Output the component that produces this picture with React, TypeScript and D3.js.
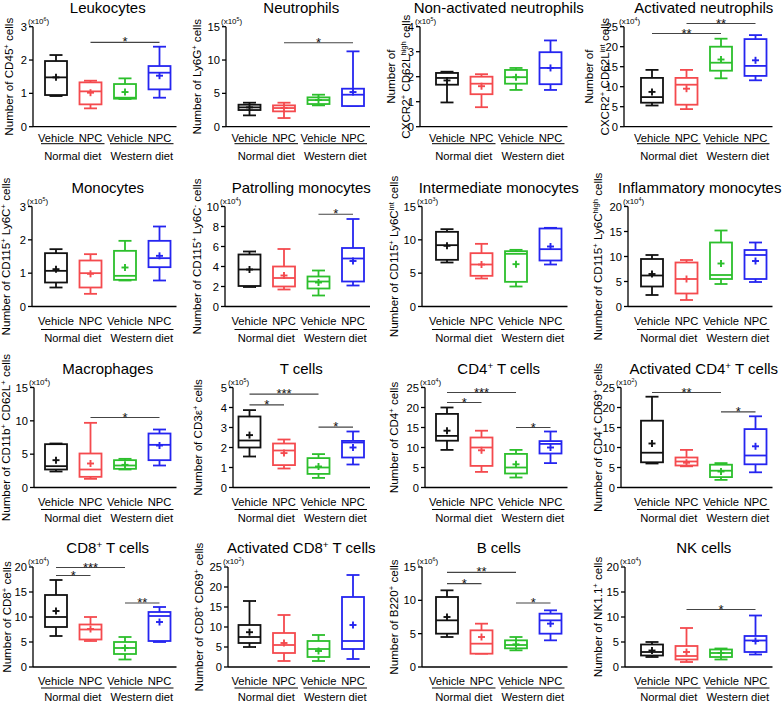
import React from 'react';
import * as d3 from 'd3';

const FONT = '"Liberation Sans", Arial, Helvetica, sans-serif';

const categories = ['Vehicle', 'NPC', 'Vehicle', 'NPC'];
const diets = ['Normal diet', 'Western diet'];
const groupColors = ['#111111', '#f44a4e', '#2cbf2c', '#2525f0'];

const titles = [
  'Leukocytes', 'Neutrophils', 'Non-activated neutrophils', 'Activated neutrophils',
  'Monocytes', 'Patrolling monocytes', 'Intermediate monocytes', 'Inflammatory monocytes',
  'Macrophages', 'T cells', 'CD4^+ T cells', 'Activated CD4^+ T cells',
  'CD8^+ T cells', 'Activated CD8^+ T cells', 'B cells', 'NK cells',
];

const yLabels: string[][] = [
  ['Number of CD45^+ cells'],
  ['Number of Ly6G^+ cells'],
  ['Number of', 'CXCR2^+ CD62L^{high} cells'],
  ['Number of', 'CXCR2^+ CD62L^{int} cells'],
  ['Number of CD115^+ Ly6C^+ cells'],
  ['Number of CD115^+ Ly6C^- cells'],
  ['Number of CD115^+ Ly6C^{int} cells'],
  ['Number of CD115^+ Ly6C^{high} cells'],
  ['Number of CD11b^+ CD62L^+ cells'],
  ['Number of CD3ε^+ cells'],
  ['Number of CD4^+ cells'],
  ['Number of CD4^+ CD69^+ cells'],
  ['Number of CD8^+ cells'],
  ['Number of CD8^+ CD69^+ cells'],
  ['Number of B220^+ cells'],
  ['Number of NK1.1^+ cells'],
];

const exponents = ['6', '5', '5', '4', '5', '4', '3', '4', '4', '5', '4', '2', '4', '2', '6', '4'];
const yMaxes = [3, 15, 4, 25, 3, 10, 15, 20, 15, 5, 25, 25, 20, 25, 15, 20];
const ySteps = [1, 5, 1, 5, 1, 2, 5, 5, 5, 1, 5, 5, 5, 5, 5, 5];

// each group: [min, q1, median, q3, max, mean]
const leukocytes = [[0.92, 0.95, 1.48, 1.97, 2.15, 1.48], [0.55, 0.67, 1.06, 1.33, 1.38, 1.02], [0.83, 0.84, 0.87, 1.28, 1.45, 1.04], [0.87, 1.12, 1.62, 1.82, 2.4, 1.53]];
const neutrophils = [[1.7, 2.5, 2.9, 3.3, 3.6, 2.9], [1.3, 2.3, 2.8, 3.2, 3.6, 2.8], [3.2, 3.4, 4.0, 4.4, 4.8, 4.0], [3.1, 3.1, 4.8, 5.7, 11.3, 5.2]];
const nonActNeut = [[0.97, 1.68, 1.95, 2.15, 2.2, 1.85], [0.78, 1.3, 1.72, 2.0, 2.1, 1.62], [1.47, 1.72, 1.98, 2.27, 2.35, 1.98], [1.47, 1.7, 2.35, 2.98, 3.45, 2.35]];
const actNeut = [[5.3, 6.0, 7.4, 12.2, 14.2, 8.7], [4.4, 5.5, 10.5, 12.2, 14.2, 9.5], [12.1, 14, 16, 20, 22, 16.8], [11.6, 12.7, 15.2, 21.9, 22.9, 16.6]];
const monocytes = [[0.57, 0.72, 1.07, 1.6, 1.72, 1.12], [0.38, 0.57, 1.0, 1.38, 1.57, 0.98], [0.78, 0.8, 0.92, 1.67, 1.97, 1.17], [0.78, 1.18, 1.45, 1.97, 2.4, 1.52]];
const patrolMono = [[1.95, 2.05, 3.7, 5.2, 5.5, 3.7], [1.7, 2.0, 2.85, 4.0, 5.75, 3.1], [1.1, 1.8, 2.5, 3.0, 3.6, 2.4], [2.1, 2.5, 4.8, 5.85, 8.75, 4.55]];
const interMono = [[6.6, 7.0, 9.2, 11.2, 11.6, 9.1], [4.2, 4.6, 6.3, 8.0, 9.4, 6.3], [3.0, 3.7, 7.9, 8.3, 8.5, 6.35], [6.3, 6.9, 8.6, 11.7, 11.8, 9.0]];
const inflamMono = [[2.3, 4.0, 6.2, 9.5, 10.3, 6.5], [1.3, 2.6, 5.5, 8.8, 9.3, 5.5], [4.5, 5.5, 6.3, 12.8, 15.2, 8.6], [4.9, 5.5, 10.3, 11.3, 12.8, 9.1]];
const macrophages = [[2.4, 2.7, 3.2, 6.5, 6.6, 4.1], [1.3, 1.6, 2.7, 5.1, 9.7, 3.6], [2.7, 2.8, 3.3, 4.1, 4.3, 3.4], [3.3, 4.1, 6.4, 8.1, 8.7, 6.3]];
const tCells = [[1.55, 2.0, 2.35, 3.55, 3.87, 2.62], [0.95, 1.12, 1.85, 2.2, 2.4, 1.72], [0.48, 0.68, 1.0, 1.47, 1.67, 1.05], [1.15, 1.5, 2.25, 2.33, 2.8, 2.0]];
const cd4Cells = [[9.4, 11.7, 12.9, 18.4, 20, 14.2], [3.9, 5.4, 10.0, 12.5, 14.2, 9.3], [2.5, 3.5, 5.0, 8.4, 9.4, 5.8], [6.1, 8.5, 10.9, 11.6, 14.0, 10.0]];
const actCd4 = [[6.0, 6.3, 8.7, 16.7, 22.7, 11.0], [5.3, 5.5, 6.5, 7.5, 9.4, 6.2], [1.9, 2.6, 4.2, 5.7, 6.1, 4.0], [3.8, 5.8, 8.0, 14.6, 17.8, 10.3]];
const cd8Cells = [[6.2, 8.0, 10.0, 14.4, 17.4, 11.2], [5.2, 5.5, 7.5, 8.5, 10, 7.6], [1.5, 2.6, 3.8, 5.0, 6.0, 3.8], [5.0, 5.2, 10.2, 11.0, 12.0, 9.0]];
const actCd8 = [[5, 6, 7.5, 10.5, 16.5, 8.7], [1.5, 3.5, 5.5, 8.5, 13, 6], [1.5, 2.5, 4.5, 6.5, 8, 4], [2, 4.5, 6.5, 17.5, 23, 10.5]];
const bCells = [[4.5, 5, 7, 10.5, 11.5, 7.5], [2, 2, 3.5, 5.5, 6.5, 4.5], [2.5, 2.8, 3.3, 4, 4.5, 3.4], [4, 5, 7, 8, 8.5, 6.5]];
const nkCells = [[2, 2.3, 3, 4.5, 5, 3.3], [1, 1.5, 2.2, 4.2, 7.8, 3], [1.5, 2, 2.8, 3.5, 3.7, 2.8], [2.5, 3, 5.3, 6.2, 10.3, 5.2]];

const panelStats = [leukocytes, neutrophils, nonActNeut, actNeut, monocytes, patrolMono, interMono, inflamMono, macrophages, tCells, cd4Cells, actCd4, cd8Cells, actCd8, bCells, nkCells];

// significance: [fromGroup, toGroup, value, label]
type Sig = [number, number, number, string];
const panelSigs: Sig[][] = [
  [[1, 3, 2.53, '*']],
  [[1, 3, 12.6, '*']],
  [],
  [[0, 2, 23.3, '**'], [1, 3, 25.8, '**']],
  [],
  [[2, 3, 9.23, '*']],
  [],
  [],
  [[1, 3, 10.5, '*']],
  [[0, 1, 4.13, '*'], [0, 2, 4.67, '***'], [2, 3, 3.02, '*']],
  [[0, 1, 21.25, '*'], [0, 2, 23.75, '***'], [2, 3, 15, '*']],
  [[0, 2, 23.75, '**'], [2, 3, 18.9, '*']],
  [[0, 1, 18.3, '*'], [0, 2, 19.9, '***'], [2, 3, 12.8, '**']],
  [],
  [[0, 1, 12.5, '*'], [0, 2, 14.2, '**'], [2, 3, 9.6, '*']],
  [[1, 3, 11.5, '*']],
];

// layout
const colCatStart = [56, 249.5, 447, 652];
const catStep = 34.5;
const rowTop = [26.7, 206.5, 387.5, 567];
const plotH = 100;
const axisXs = [33, 226, 420, 624, 32, 225, 422, 628, 34, 233, 425, 621, 33, 228, 422, 625];
const yLabelXs = [[12.5], [201], [395, 410], [593, 609], [10], [201], [398], [602], [10], [202], [398], [602], [11], [203], [398], [602]];
const titleDx = [0, 0, 0, 0, 0, 0, 0, -4, 0, 0, 0, 0, 0, 0, 0, 0];
const rowCatOff = [11.5, 14, 14, 14];
const rowLineOff = [17, 23, 22, 21];
const rowDietOff = [29, 31, 30, 30];

const TITLE_FS = 15;
const YLAB_FS = 11.6;
const TICK_FS = 11.2;
const CAT_FS = 11.2;

function RichText({ s, size }: { s: string; size: number }) {
  const parts: { t: string; sup: boolean }[] = [];
  const re = /\^(\{[^}]*\}|.)/g;
  let last = 0;
  let m: RegExpExecArray | null;
  while ((m = re.exec(s))) {
    if (m.index > last) parts.push({ t: s.slice(last, m.index), sup: false });
    let t = m[1];
    if (t.startsWith('{')) t = t.slice(1, -1);
    parts.push({ t, sup: true });
    last = m.index + m[0].length;
  }
  if (last < s.length) parts.push({ t: s.slice(last), sup: false });
  const shift = size * 0.33;
  let prevSup = false;
  return (
    <>
      {parts.map((p, k) => {
        let dy = 0;
        if (p.sup && !prevSup) dy = -shift;
        if (!p.sup && prevSup) dy = shift;
        prevSup = p.sup;
        return (
          <tspan key={k} dy={dy} fontSize={p.sup ? size * 0.66 : size}>
            {p.t}
          </tspan>
        );
      })}
    </>
  );
}

function Panel({ i }: { i: number }) {
  const r = Math.floor(i / 4);
  const c = i % 4;
  const top = rowTop[r];
  const bottom = top + plotH;
  const y = d3.scaleLinear().domain([0, yMaxes[i]]).range([bottom, top]);
  const x = d3
    .scalePoint<number>()
    .domain([0, 1, 2, 3])
    .range([colCatStart[c], colCatStart[c] + 3 * catStep]);
  const ax = axisXs[i];
  const ticks = d3.range(0, yMaxes[i] + 1e-9, ySteps[i]);
  const stats = panelStats[i];
  const bw = 22;
  const cw = 13;
  const xEnd = (x(3) as number) + 17;
  const midY = (top + bottom) / 2;
  const labels = yLabels[i];
  const lx = yLabelXs[i];
  const titleX = ((x(0) as number) + (x(3) as number)) / 2 + titleDx[i];

  return (
    <g>
      <text x={titleX} y={top - 14} textAnchor="middle" fontSize={TITLE_FS} fill="#000">
        <RichText s={titles[i]} size={TITLE_FS} />
      </text>
      {labels.map((lab, k) => (
        <text
          key={k}
          transform={`translate(${lx[k]},${midY}) rotate(-90)`}
          textAnchor="middle"
          dy="0.35em"
          fontSize={YLAB_FS}
          fill="#000"
        >
          <RichText s={lab} size={YLAB_FS} />
        </text>
      ))}
      <text x={ax - 5} y={top - 3} fontSize={8} fill="#000">
        <RichText s={`(x10^${exponents[i]})`} size={8} />
      </text>
      {/* y axis */}
      <line x1={ax} x2={ax} y1={top} y2={bottom} stroke="#000" strokeWidth={1.3} />
      {ticks.map((t) => (
        <g key={t}>
          <line x1={ax - 4} x2={ax} y1={y(t)} y2={y(t)} stroke="#000" strokeWidth={1.3} />
          <text x={ax - 6} y={y(t)} dy="0.36em" textAnchor="end" fontSize={TICK_FS} fill="#000">
            {t}
          </text>
        </g>
      ))}
      {/* x axis */}
      <line x1={ax} x2={xEnd} y1={bottom} y2={bottom} stroke="#000" strokeWidth={1.3} />
      {categories.map((cat, k) => (
        <text key={k} x={x(k)} y={bottom + rowCatOff[r]} dy="0.36em" textAnchor="middle" fontSize={CAT_FS} fill="#000">
          {cat}
        </text>
      ))}
      {diets.map((d, k) => {
        const x0 = (x(k * 2) as number) - 15;
        const x1 = (x(k * 2 + 1) as number) + 14;
        return (
          <g key={d}>
            <line x1={x0} x2={x1} y1={bottom + rowLineOff[r]} y2={bottom + rowLineOff[r]} stroke="#000" strokeWidth={1} />
            <text x={(x0 + x1) / 2} y={bottom + rowDietOff[r]} dy="0.36em" textAnchor="middle" fontSize={CAT_FS} fill="#000">
              {d}
            </text>
          </g>
        );
      })}
      {/* boxes */}
      {stats.map((s, k) => {
        const [mn, q1, md, q3, mx, mean] = s;
        const cx = x(k) as number;
        const col = groupColors[k];
        return (
          <g key={k} stroke={col} strokeWidth={1.8} fill="none">
            <line x1={cx} x2={cx} y1={y(q3)} y2={y(mx)} />
            <line x1={cx} x2={cx} y1={y(q1)} y2={y(mn)} />
            <line x1={cx - cw / 2} x2={cx + cw / 2} y1={y(mx)} y2={y(mx)} />
            <line x1={cx - cw / 2} x2={cx + cw / 2} y1={y(mn)} y2={y(mn)} />
            <rect x={cx - bw / 2} y={y(q3)} width={bw} height={y(q1) - y(q3)} fill="#fff" />
            <line x1={cx - bw / 2} x2={cx + bw / 2} y1={y(md)} y2={y(md)} />
            <line x1={cx - 3.5} x2={cx + 3.5} y1={y(mean)} y2={y(mean)} strokeWidth={1.9} />
            <line x1={cx} x2={cx} y1={y(mean) - 3.5} y2={y(mean) + 3.5} strokeWidth={1.9} />
          </g>
        );
      })}
      {/* significance */}
      {panelSigs[i].map(([a, b, v, lab], k) => {
        const x0 = x(a) as number;
        const x1 = x(b) as number;
        const yy = y(v);
        return (
          <g key={k}>
            <line x1={x0} x2={x1} y1={yy} y2={yy} stroke="#444" strokeWidth={1.1} />
            <text x={(x0 + x1) / 2} y={yy + 4} textAnchor="middle" fontSize={13} fill="#111">
              {lab}
            </text>
          </g>
        );
      })}
    </g>
  );
}

export default function App() {
  return (
    <svg
      width={783}
      height={703}
      style={{ position: 'absolute', left: 0, top: 0, background: '#fff' }}
      fontFamily={FONT}
    >
      <rect x={0} y={0} width={783} height={703} fill="#fff" />
      {d3.range(16).map((i) => (
        <Panel key={i} i={i} />
      ))}
    </svg>
  );
}
